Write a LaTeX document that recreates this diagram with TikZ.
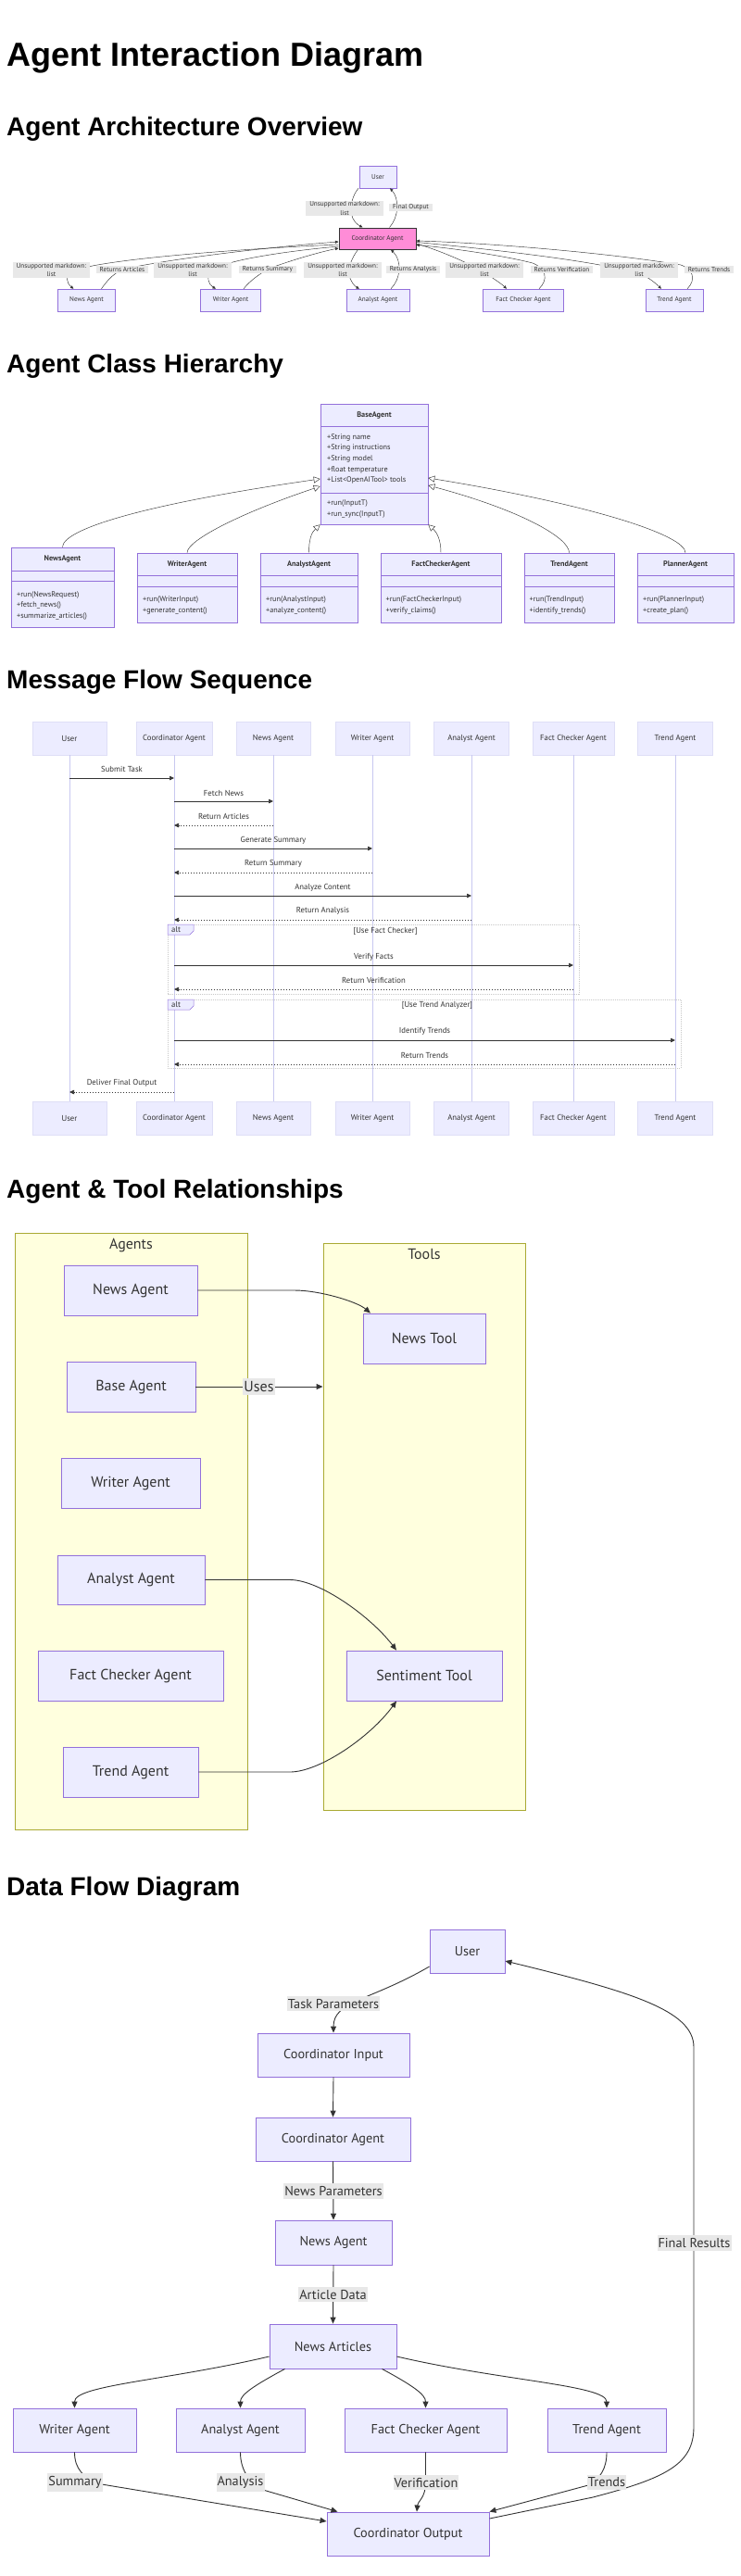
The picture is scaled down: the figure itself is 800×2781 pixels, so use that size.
\documentclass[tikz,border=0pt]{standalone}
\usepackage{fontspec}
\setmainfont{PT Sans}
\newfontfamily\hdfont{Liberation Sans}
\usetikzlibrary{arrows.meta}
\definecolor{mfill}{HTML}{ECECFF}
\definecolor{mstroke}{HTML}{9370DB}
\definecolor{mtext}{HTML}{333333}
\definecolor{mline}{HTML}{333333}
\definecolor{lblbg}{HTML}{E8E8E8}
\definecolor{clfill}{HTML}{FFFFDE}
\definecolor{clstroke}{HTML}{AAAA33}
\definecolor{pinkc}{RGB}{255,140,215}
\definecolor{lifec}{RGB}{200,200,240}
\definecolor{actstroke}{RGB}{222,222,246}
\definecolor{altc}{RGB}{200,200,200}
\begin{document}
\begin{tikzpicture}[x=1pt,y=-1pt,
 hdA/.style={anchor=base west,inner sep=0pt,text=black,font=\hdfont\bfseries\fontsize{36}{40}\selectfont},
 hdB/.style={anchor=base west,inner sep=0pt,text=black,font=\hdfont\bfseries\fontsize{28}{32}\selectfont},
 s1box/.style={draw=mstroke,fill=mfill,text=mtext,line width=0.5pt,inner sep=0pt,font=\fontsize{7.2}{9}\selectfont},
 s1lab/.style={fill=lblbg,text=mtext,inner xsep=4pt,inner ysep=1pt,align=center,font=\fontsize{7.2}{9.5}\selectfont},
 s1edge/.style={draw=mline,line width=0.45pt,-{Triangle[length=3.5pt,width=3pt]}},
 cbox/.style={draw=mstroke,fill=mfill,line width=0.6pt,inner sep=0pt},
 cdiv/.style={draw=mstroke,line width=0.6pt},
 chead/.style={inner sep=0pt,text=mtext,font=\bfseries\fontsize{8.2}{10}\selectfont},
 ctxt/.style={anchor=west,inner sep=0pt,text=mtext,font=\fontsize{8.2}{10}\selectfont},
 inh/.style={draw=mline,line width=0.45pt,-{Triangle[length=7pt,width=7pt,fill=white]}},
 actor/.style={draw=actstroke,fill=mfill,text=mtext,line width=0.5pt,inner sep=0pt,minimum height=36pt,font=\fontsize{8.7}{10}\selectfont},
 lifel/.style={draw=lifec,line width=0.6pt},
 msg/.style={draw=mline,line width=0.7pt,-{Triangle[length=5pt,width=4.5pt]}},
 ret/.style={msg,dash pattern=on 1.5pt off 1.5pt},
 mlab/.style={inner sep=0pt,text=mtext,font=\fontsize{8.7}{10}\selectfont},
 altbox/.style={draw=altc,line width=0.6pt,dash pattern=on 1pt off 1pt},
 b4/.style={draw=mstroke,fill=mfill,text=mtext,line width=0.9pt,inner sep=0pt,font=\fontsize{16}{19}\selectfont},
 clus/.style={draw=clstroke,fill=clfill,line width=0.9pt,inner sep=0pt},
 cllab/.style={inner sep=0pt,text=mtext,font=\fontsize{16}{19}\selectfont},
 e4/.style={draw=mline,line width=0.9pt,-{Triangle[length=7pt,width=6pt]}},
 lab4/.style={fill=lblbg,text=mtext,inner xsep=1pt,inner ysep=3pt,font=\fontsize{16}{19}\selectfont},
 b5/.style={draw=mstroke,fill=mfill,text=mtext,line width=0.9pt,inner sep=0pt,minimum height=47pt,font=\fontsize{14.3}{17}\selectfont},
 lab5/.style={fill=lblbg,text=mtext,inner xsep=1pt,inner ysep=3pt,font=\fontsize{14.3}{17}\selectfont},
 e5/.style={draw=mline,line width=0.9pt,-{Triangle[length=7pt,width=6pt]}}
]
\useasboundingbox[fill=white] (0,0) rectangle (800,2781);

% ---------- headings
\node[hdA] (h0) at (7,71) {Agent Interaction Diagram};
\node[hdB] (h1) at (7,146) {Agent Architecture Overview};
\node[hdB] (h2) at (7,402) {Agent Class Hierarchy};
\node[hdB] (h3) at (7,743) {Message Flow Sequence};
\node[hdB] (h4) at (7,1293) {Agent \& Tool Relationships};
\node[hdB] (h5) at (7,2046) {Data Flow Diagram};

% ---------- Section 1: architecture overview
\node[s1box,minimum width=40pt,minimum height=24pt] (s1u) at (408,191) {User};
\node[s1box,fill=pinkc,draw=mline,line width=1pt,minimum width=83pt,minimum height=23pt] (s1c) at (407.5,257.5) {Coordinator Agent};
\node[s1box,minimum width=62pt,minimum height=24pt] (s1n) at (93.5,324) {News Agent};
\node[s1box,minimum width=65pt,minimum height=24pt] (s1w) at (249,324) {Writer Agent};
\node[s1box,minimum width=68pt,minimum height=24pt] (s1a) at (408,324) {Analyst Agent};
\node[s1box,minimum width=87pt,minimum height=24pt] (s1f) at (565,324) {Fact Checker Agent};
\node[s1box,minimum width=62pt,minimum height=24pt] (s1t) at (728,324) {Trend Agent};

\draw[s1edge] ([xshift=-21pt]s1u.south) .. controls (378,214) and (374,236) .. ([xshift=-16pt]s1c.north);
\draw[s1edge] ([xshift=13pt]s1c.north) .. controls (431,234) and (431,214) .. ([xshift=13pt]s1u.south);
\draw[s1edge] (s1c.west |- 0,264) .. controls (230,270) and (100,282) .. (78,293) .. controls (70,298) and (72,306) .. ([xshift=-14pt]s1n.north);
\draw[s1edge] ([xshift=16pt]s1n.north) .. controls (117,301) and (124,294) .. (135,290) .. controls (200,277) and (300,266) .. (s1c.west |- 0,261);
\draw[s1edge] (s1c.west |- 0,266) .. controls (300,272) and (240,282) .. (229,292) .. controls (222,299) and (225,307) .. ([xshift=-16pt]s1w.north);
\draw[s1edge] ([xshift=14pt]s1w.north) .. controls (270,303) and (280,296) .. (290,290) .. controls (320,279) and (350,271) .. (s1c.west |- 0,268);
\draw[s1edge] ([xshift=-21pt]s1c.south) .. controls (380,278) and (376,288) .. (377,296) .. controls (378,304) and (383,309) .. ([xshift=-20pt]s1a.north);
\draw[s1edge] ([xshift=14pt]s1a.north) .. controls (433,301) and (434,281) .. ([xshift=14.5pt]s1c.south);
\draw[s1edge] (s1c.east |- 0,263) .. controls (480,272) and (512,287) .. (524,295) .. controls (535,302) and (542,307) .. ([xshift=-18pt]s1f.north);
\draw[s1edge] ([xshift=17pt]s1f.north) .. controls (592,302) and (590,290) .. (575,284) .. controls (540,275) and (480,267) .. (s1c.east |- 0,264.5);
\draw[s1edge] (s1c.east |- 0,261.5) .. controls (550,271) and (640,282) .. (690,295) .. controls (700,299) and (708,306) .. ([xshift=-14pt]s1t.north);
\draw[s1edge] ([xshift=14pt]s1t.north) .. controls (752,302) and (748,290) .. (735,286) .. controls (650,272) and (520,262) .. (s1c.east |- 0,260);

\node[s1lab] (l1a) at (372,225) {Unsupported markdown:\\list};
\node[s1lab] (l1b) at (443.5,224) {Final Output};
\node[s1lab] (l1c) at (55.5,291.5) {Unsupported markdown:\\list};
\node[s1lab] (l1d) at (132,291) {Returns Articles};
\node[s1lab] (l1e) at (208,291.5) {Unsupported markdown:\\list};
\node[s1lab] (l1f) at (289,291) {Returns Summary};
\node[s1lab] (l1g) at (370,291.5) {Unsupported markdown:\\list};
\node[s1lab] (l1h) at (446,291) {Returns Analysis};
\node[s1lab] (l1i) at (523,291.5) {Unsupported markdown:\\list};
\node[s1lab] (l1j) at (606.5,291) {Returns Verification};
\node[s1lab] (l1k) at (690,291.5) {Unsupported markdown:\\list};
\node[s1lab] (l1l) at (765.5,291) {Returns Trends};

% ---------- Section 2: class hierarchy
\node[cbox,minimum width=116pt,minimum height=130pt] (cb) at (404,501) {};
\node[cbox,minimum width=111pt,minimum height=86pt] (cn) at (67.5,634) {};
\node[cbox,minimum width=108pt,minimum height=75pt] (cw) at (202,634.5) {};
\node[cbox,minimum width=105pt,minimum height=75pt] (ca) at (333.5,634.5) {};
\node[cbox,minimum width=130pt,minimum height=75pt] (cf) at (476,634.5) {};
\node[cbox,minimum width=97pt,minimum height=75pt] (ct) at (614.5,634.5) {};
\node[cbox,minimum width=104pt,minimum height=75pt] (cp) at (740,634.5) {};

\draw[cdiv] (cb.west |- 0,460) -- (cb.east |- 0,460);
\draw[cdiv] (cb.west |- 0,532) -- (cb.east |- 0,532);
\draw[cdiv] (cn.west |- 0,616) -- (cn.east |- 0,616);
\draw[cdiv] (cn.west |- 0,627) -- (cn.east |- 0,627);
\foreach \c in {cw,ca,cf,ct,cp}{
  \draw[cdiv] (\c.west |- 0,621) -- (\c.east |- 0,621);
  \draw[cdiv] (\c.west |- 0,633) -- (\c.east |- 0,633);
}

\node[chead] (cbh) at (404,448) {BaseAgent};
\node[ctxt] (cb1) at (353,472) {+String name};
\node[ctxt] (cb2) at (353,483.7) {+String instructions};
\node[ctxt] (cb3) at (353,495.4) {+String model};
\node[ctxt] (cb4) at (353,507.1) {+float temperature};
\node[ctxt] (cb5) at (353,518.8) {+List<OpenAITool> tools};
\node[ctxt] (cb6) at (353,543) {+run(InputT)};
\node[ctxt] (cb7) at (353,555) {+run\_sync(InputT)};

\node[chead] (cnh) at (67.5,603) {NewsAgent};
\node[ctxt] (cn1) at (18,642) {+run(NewsRequest)};
\node[ctxt] (cn2) at (18,653.5) {+fetch\_news()};
\node[ctxt] (cn3) at (18,665) {+summarize\_articles()};

\node[chead] (cwh) at (202,609) {WriterAgent};
\node[ctxt] (cw1) at (154,647) {+run(WriterInput)};
\node[ctxt] (cw2) at (154,659) {+generate\_content()};

\node[chead] (cah) at (333.5,609) {AnalystAgent};
\node[ctxt] (ca1) at (287,647) {+run(AnalystInput)};
\node[ctxt] (ca2) at (287,659) {+analyze\_content()};

\node[chead] (cfh) at (476,609) {FactCheckerAgent};
\node[ctxt] (cf1) at (416.5,647) {+run(FactCheckerInput)};
\node[ctxt] (cf2) at (416.5,659) {+verify\_claims()};

\node[chead] (cth) at (614.5,609) {TrendAgent};
\node[ctxt] (ct1) at (571.5,647) {+run(TrendInput)};
\node[ctxt] (ct2) at (571.5,659) {+identify\_trends()};

\node[chead] (cph) at (740,609) {PlannerAgent};
\node[ctxt] (cp1) at (694,647) {+run(PlannerInput)};
\node[ctxt] (cp2) at (694,659) {+create\_plan()};

\draw[inh] (cn.north) .. controls (67.5,572) and (150,545) .. (cb.west |- 0,517);
\draw[inh] (cw.north) .. controls (202,583) and (262,553) .. (cb.west |- 0,525);
\draw[inh] (ca.north) .. controls (333.5,583) and (336,575) .. (cb.south west);
\draw[inh] (cf.north) .. controls (476,583) and (472,575) .. (cb.south east);
\draw[inh] (ct.north) .. controls (614.5,580) and (560,550) .. (cb.east |- 0,524);
\draw[inh] (cp.north) .. controls (740,578) and (640,545) .. (cb.east |- 0,516);

% ---------- Section 3: sequence
\node[actor,minimum width=80pt] (sA1) at (75,797) {User};
\node[actor,minimum width=82pt] (sA2) at (188,797) {Coordinator Agent};
\node[actor,minimum width=80pt] (sA3) at (295,797) {News Agent};
\node[actor,minimum width=80pt] (sA4) at (402,797) {Writer Agent};
\node[actor,minimum width=81pt] (sA5) at (509,797) {Analyst Agent};
\node[actor,minimum width=88pt] (sA6) at (619,797) {Fact Checker Agent};
\node[actor,minimum width=81pt] (sA7) at (729,797) {Trend Agent};
\node[actor,minimum width=80pt] (sB1) at (75,1207) {User};
\node[actor,minimum width=82pt] (sB2) at (188,1207) {Coordinator Agent};
\node[actor,minimum width=80pt] (sB3) at (295,1207) {News Agent};
\node[actor,minimum width=80pt] (sB4) at (402,1207) {Writer Agent};
\node[actor,minimum width=81pt] (sB5) at (509,1207) {Analyst Agent};
\node[actor,minimum width=88pt] (sB6) at (619,1207) {Fact Checker Agent};
\node[actor,minimum width=81pt] (sB7) at (729,1207) {Trend Agent};
\foreach \i in {1,...,7}{\draw[lifel] (sA\i.south) -- (sB\i.north);}

\draw[altbox] (181,998) rectangle (625,1073);
\draw[altbox] (181,1079) rectangle (735,1153);
\draw[draw=mstroke,fill=mfill,line width=0.5pt] (181,998) -- (209,998) -- (209,1005) -- (205,1009) -- (181,1009) -- cycle;
\draw[draw=mstroke,fill=mfill,line width=0.5pt] (181,1079) -- (209,1079) -- (209,1086) -- (205,1090) -- (181,1090) -- cycle;
\node[mlab,anchor=west] (alt1) at (185,1003.5) {alt};
\node[mlab,anchor=west] (alt2) at (185,1084.5) {alt};
\node[mlab] (cnd1) at (416,1005) {[Use Fact Checker]};
\node[mlab] (cnd2) at (472,1085) {[Use Trend Analyzer]};

\draw[msg] (sA1.south |- 0,840) -- (sA2.south |- 0,840);
\node[mlab] (m1) at (131.5,830) {Submit Task};
\draw[msg] (sA2.south |- 0,865) -- (sA3.south |- 0,865);
\node[mlab] (m2) at (241.5,856) {Fetch News};
\draw[ret] (sA3.south |- 0,891) -- (sA2.south |- 0,891);
\node[mlab] (m3) at (241.5,881) {Return Articles};
\draw[msg] (sA2.south |- 0,916) -- (sA4.south |- 0,916);
\node[mlab] (m4) at (295,907) {Generate Summary};
\draw[ret] (sA4.south |- 0,942) -- (sA2.south |- 0,942);
\node[mlab] (m5) at (295,932) {Return Summary};
\draw[msg] (sA2.south |- 0,967) -- (sA5.south |- 0,967);
\node[mlab] (m6) at (348.5,958) {Analyze Content};
\draw[ret] (sA5.south |- 0,993) -- (sA2.south |- 0,993);
\node[mlab] (m7) at (348.5,983) {Return Analysis};
\draw[msg] (sA2.south |- 0,1042) -- (sA6.south |- 0,1042);
\node[mlab] (m8) at (403.5,1033) {Verify Facts};
\draw[ret] (sA6.south |- 0,1068) -- (sA2.south |- 0,1068);
\node[mlab] (m9) at (403.5,1058) {Return Verification};
\draw[msg] (sA2.south |- 0,1123) -- (sA7.south |- 0,1123);
\node[mlab] (m10) at (458.5,1113) {Identify Trends};
\draw[ret] (sA7.south |- 0,1149) -- (sA2.south |- 0,1149);
\node[mlab] (m11) at (458.5,1139) {Return Trends};
\draw[ret] (sA2.south |- 0,1179) -- (sA1.south |- 0,1179);
\node[mlab] (m12) at (131.5,1169) {Deliver Final Output};

% ---------- Section 4: agents & tools
\node[clus,minimum width=251pt,minimum height=644pt] (agents) at (141.5,1653) {};
\node[clus,minimum width=218pt,minimum height=612pt] (tools) at (458,1648) {};
\node[cllab] (agl) at (141.5,1344) {Agents};
\node[cllab] (tol) at (458,1354) {Tools};
\node[b4,minimum width=144pt,minimum height=54pt] (t_news) at (141,1393) {News Agent};
\node[b4,minimum width=139pt,minimum height=54pt] (t_base) at (141.5,1497) {Base Agent};
\node[b4,minimum width=150pt,minimum height=54pt] (t_writer) at (141,1601) {Writer Agent};
\node[b4,minimum width=159pt,minimum height=53pt] (t_anal) at (141.5,1705.5) {Analyst Agent};
\node[b4,minimum width=200pt,minimum height=54pt] (t_fact) at (141,1809) {Fact Checker Agent};
\node[b4,minimum width=146pt,minimum height=54pt] (t_trend) at (141,1913) {Trend Agent};
\node[b4,minimum width=132pt,minimum height=54pt] (t_ntool) at (458,1445) {News Tool};
\node[b4,minimum width=168pt,minimum height=54pt] (t_sent) at (458,1809) {Sentiment Tool};

\draw[e4] (t_news.east) -- (318,1393) .. controls (345,1393) and (385,1405) .. ([xshift=-58pt]t_ntool.north);
\draw[e4] (t_base.east) -- (tools.west |- t_base.east);
\draw[e4] (t_anal.east) -- (313,1705.5) .. controls (345,1705.5) and (400,1745) .. ([xshift=-30pt]t_sent.north);
\draw[e4] (t_trend.east) -- (313,1913) .. controls (345,1913) and (400,1875) .. ([xshift=-30pt]t_sent.south);
\node[lab4] (uses) at (279.5,1497) {Uses};

% ---------- Section 5: data flow
\node[b5,minimum width=81pt] (d_user) at (504.5,2106.5) {User};
\node[b5,minimum width=164pt] (d_ci) at (360,2218.5) {Coordinator Input};
\node[b5,minimum width=167pt] (d_ca) at (359.5,2309.5) {Coordinator Agent};
\node[b5,minimum width=126pt,minimum height=48pt] (d_na) at (360,2421) {News Agent};
\node[b5,minimum width=137pt,minimum height=48pt] (d_art) at (359.5,2533) {News Articles};
\node[b5,minimum width=133pt] (d_wr) at (80.5,2623.5) {Writer Agent};
\node[b5,minimum width=139pt] (d_an) at (259.5,2623.5) {Analyst Agent};
\node[b5,minimum width=175pt] (d_fc) at (459.5,2623.5) {Fact Checker Agent};
\node[b5,minimum width=128pt] (d_tr) at (655,2623.5) {Trend Agent};
\node[b5,minimum width=175pt] (d_co) at (440.5,2735.5) {Coordinator Output};

\draw[e5] (d_user.west |- 0,2123) .. controls (400,2160) and (360,2160) .. (d_ci.north);
\draw[e5] (d_ci.south) -- (d_ca.north);
\draw[e5] (d_ca.south) -- (d_na.north);
\draw[e5] (d_na.south) -- (d_art.north);
\draw[e5] (d_art.west |- 0,2544) .. controls (180,2570) and (80.5,2575) .. (d_wr.north);
\draw[e5] ([xshift=-52pt]d_art.south) .. controls (275,2575) and (259.5,2585) .. (d_an.north);
\draw[e5] ([xshift=53pt]d_art.south) .. controls (445,2575) and (459.5,2585) .. (d_fc.north);
\draw[e5] (d_art.east |- 0,2544) .. controls (540,2570) and (655,2575) .. (d_tr.north);
\draw[e5] (d_wr.south) .. controls (80.5,2665) and (90,2676) .. (110,2682) -- (d_co.west |- 0,2722);
\draw[e5] (d_an.south) .. controls (259.5,2665) and (268,2680) .. (284,2688) -- ([xshift=-76pt]d_co.north);
\draw[e5] (d_fc.south) -- (459.5,2680) .. controls (459.5,2697) and (451,2700) .. ([xshift=9.5pt]d_co.north);
\draw[e5] (d_tr.south) .. controls (655,2665) and (648,2676) .. (635,2683) -- (d_co.north east);
\draw[e5] (d_co.east |- 0,2719) -- (640,2696) .. controls (720,2675) and (749,2660) .. (749,2620) -- (749,2210) .. controls (749,2170) and (680,2150) .. (d_user.east |- 0,2117);

\node[lab5] (k1) at (360,2163) {Task Parameters};
\node[lab5] (k2) at (360,2365.5) {News Parameters};
\node[lab5] (k3) at (359.5,2477) {Article Data};
\node[lab5] (k4) at (749.5,2421.5) {Final Results};
\node[lab5] (k5) at (81,2680) {Summary};
\node[lab5] (k6) at (259.5,2680) {Analysis};
\node[lab5] (k7) at (460,2680) {Verification};
\node[lab5] (k8) at (655,2680) {Trends};
\end{tikzpicture}
\end{document}
